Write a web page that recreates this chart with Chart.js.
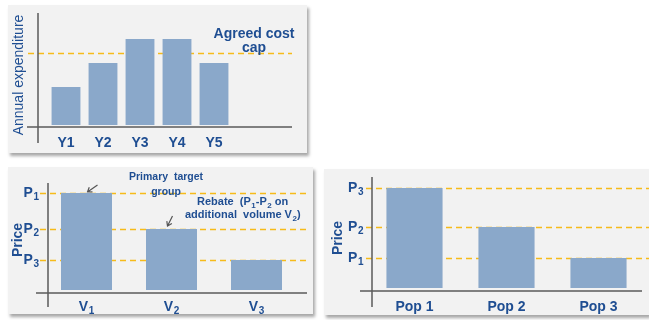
<!DOCTYPE html>
<html>
<head>
<meta charset="utf-8">
<script src="https://cdn.jsdelivr.net/npm/chart.js@4.4.1/dist/chart.umd.min.js"></script>
<style>
  body { margin: 0; width: 649px; height: 320px; overflow: hidden; position: relative; background: #fff; }
  .panel { position: absolute; background: #f2f2f2; box-shadow: 2px 3px 3px rgba(0, 0, 0, 0.35); }
  .panel canvas { display: block; }
</style>
</head>
<body>
<div class="panel" style="left:8px;top:5px;width:299px;height:148px"><canvas id="costChart" width="299" height="148"></canvas></div>
<div class="panel" style="left:8px;top:167px;width:305px;height:147px"><canvas id="volumeChart" width="305" height="147"></canvas></div>
<div class="panel" style="left:324px;top:169px;width:325px;height:146px"><canvas id="popChart" width="325" height="146"></canvas></div>
<script>
// Annual spend against the agreed cap
var years = ['Y1', 'Y2', 'Y3', 'Y4', 'Y5'];
var spend = [38, 62, 86, 86, 62];
var costCap = 72;

// Volume based pricing (last character is drawn as a subscript)
var volumes = ['V1', 'V2', 'V3'];
var volumePrices = [97, 61, 30];
var volumePriceLabels = ['P1', 'P2', 'P3'];

// Population based pricing
var pops = ['Pop 1', 'Pop 2', 'Pop 3'];
var popPrices = [100, 61, 30];
var popPriceLabels = ['P3', 'P2', 'P1'];

var FONT = 'Arial, "Liberation Sans", sans-serif';
var BLUE = '#1f4e92';
var BAR = '#8aa8ca';

Chart.defaults.font.family = FONT;
Chart.defaults.animation = false;

// "P1" -> P with a subscript 1, returns the drawn width
function subLabel(ctx, text, x, y, align, size) {
  var base = text.slice(0, -1), sub = text.slice(-1), small = Math.round(size * 0.7);
  ctx.font = 'bold ' + size + 'px ' + FONT;
  var wb = ctx.measureText(base).width;
  ctx.font = 'bold ' + small + 'px ' + FONT;
  var ws = ctx.measureText(sub).width;
  var w = wb + ws + 0.5;
  var start = align === 'right' ? x - w : (align === 'left' ? x : x - w / 2);
  ctx.textAlign = 'left';
  ctx.textBaseline = 'middle';
  ctx.font = 'bold ' + size + 'px ' + FONT;
  ctx.fillText(base, start, y);
  ctx.font = 'bold ' + small + 'px ' + FONT;
  ctx.fillText(sub, start + wb + 0.5, y + size * 0.3);
  return w;
}

// plain text run, returns the drawn width
function run(ctx, text, x, y, size) {
  ctx.font = 'bold ' + size + 'px ' + FONT;
  ctx.textAlign = 'left';
  ctx.textBaseline = 'middle';
  ctx.fillText(text, x, y);
  return ctx.measureText(text).width;
}

// dashed guides behind the bars, crossing axes and notes on top
var panelDecor = {
  id: 'panelDecor',
  beforeDatasetsDraw: function (chart, args, opts) {
    var ctx = chart.ctx, area = chart.chartArea, y = chart.scales.y;
    ctx.save();
    ctx.strokeStyle = '#f6bb1a';
    ctx.lineWidth = 1.7;
    ctx.setLineDash([6, 4]);
    opts.lines.forEach(function (v) {
      var py = Math.round(y.getPixelForValue(v)) + 0.5;
      ctx.beginPath();
      ctx.moveTo(area.left + opts.lineFrom, py);
      ctx.lineTo(area.right + opts.lineTo, py);
      ctx.stroke();
    });
    ctx.restore();
  },
  afterDatasetsDraw: function (chart, args, opts) {
    var ctx = chart.ctx, area = chart.chartArea;
    ctx.save();
    ctx.strokeStyle = '#5a5a5a';
    ctx.lineWidth = 1.5;
    var ax = area.left + opts.yAxis[0];
    ctx.beginPath();
    ctx.moveTo(ax, area.top + opts.yAxis[1]);
    ctx.lineTo(ax, area.bottom + opts.yAxis[2]);
    ctx.stroke();
    var ay = area.bottom + opts.xAxis[0];
    ctx.beginPath();
    ctx.moveTo(area.left + opts.xAxis[1], ay);
    ctx.lineTo(area.right + opts.xAxis[2], ay);
    ctx.stroke();

    // subscripted tick labels placed on the library's own scales
    ctx.fillStyle = BLUE;
    if (opts.yLabels) {
      opts.yLabels.forEach(function (t, i) {
        subLabel(ctx, t, area.left - opts.yLabelGap, chart.scales.y.getPixelForValue(opts.lines[i]), 'right', 14);
      });
    }
    if (opts.xLabels) {
      opts.xLabels.forEach(function (t, i) {
        subLabel(ctx, t, chart.scales.x.getPixelForValue(i), area.bottom + opts.xLabelGap, 'center', 14);
      });
    }
    if (opts.notes) opts.notes(chart, ctx);
    ctx.restore();
  }
};

function arrow(ctx, x0, y0, x1, y1) {
  var a = Math.atan2(y1 - y0, x1 - x0), h = 5;
  ctx.strokeStyle = '#555';
  ctx.lineWidth = 1.2;
  ctx.beginPath();
  ctx.moveTo(x0, y0);
  ctx.lineTo(x1, y1);
  ctx.moveTo(x1 - h * Math.cos(a - 0.6), y1 - h * Math.sin(a - 0.6));
  ctx.lineTo(x1, y1);
  ctx.lineTo(x1 - h * Math.cos(a + 0.6), y1 - h * Math.sin(a + 0.6));
  ctx.stroke();
}

function xAxis(pad, height, showTicks) {
  return {
    type: 'category',
    grid: { display: false, drawTicks: false },
    border: { display: false },
    ticks: { display: showTicks, color: BLUE, font: { size: 14, weight: 'bold' }, padding: pad },
    afterFit: function (s) { s.height = height; }
  };
}

function priceAxis(width, titlePad) {
  return {
    min: 0,
    max: 100,
    grid: { display: false, drawTicks: false },
    border: { display: false },
    ticks: { display: false },
    title: { display: true, text: 'Price', color: BLUE, font: { size: 14, weight: 'bold' }, padding: { top: titlePad, bottom: 0 } },
    afterFit: function (s) { s.width = width; }
  };
}

var quiet = { legend: { display: false }, tooltip: { enabled: false } };

new Chart(document.getElementById('costChart'), {
  type: 'bar',
  data: {
    labels: years,
    datasets: [{ data: spend, backgroundColor: BAR, barPercentage: 0.78, categoryPercentage: 1 }]
  },
  options: {
    responsive: false,
    events: [],
    layout: { padding: { left: 0, top: 20, right: 74.5, bottom: 0 } },
    scales: {
      x: xAxis(9.6, 28, true),
      y: {
        min: 0,
        max: 100,
        grid: { display: false, drawTicks: false },
        border: { display: false },
        ticks: { display: false },
        title: { display: true, text: 'Annual expenditure', color: BLUE, font: { size: 14 }, padding: { top: 3, bottom: 0 } },
        afterFit: function (s) { s.width = 39.5; }
      }
    },
    plugins: {
      legend: quiet.legend,
      tooltip: quiet.tooltip,
      panelDecor: {
        lines: [costCap],
        lineFrom: -19.5, lineTo: 59.5,
        yAxis: [-9.5, -12, 18],
        xAxis: [2, -20.5, 59.5],
        notes: function (chart, ctx) {
          var py = chart.scales.y.getPixelForValue(costCap);
          var cx = chart.chartArea.right + 21.5;
          ctx.fillStyle = BLUE;
          ctx.font = 'bold 14px ' + FONT;
          ctx.textAlign = 'center';
          ctx.textBaseline = 'middle';
          ctx.fillText('Agreed cost', cx, py - 19);
          ctx.fillText('cap', cx, py - 5);
        }
      }
    }
  },
  plugins: [panelDecor]
});

new Chart(document.getElementById('volumeChart'), {
  type: 'bar',
  data: {
    labels: volumes,
    datasets: [{ data: volumePrices, backgroundColor: BAR, barPercentage: 0.6, categoryPercentage: 1 }]
  },
  options: {
    responsive: false,
    events: [],
    layout: { padding: { left: 0, top: 23, right: 14, bottom: 0 } },
    scales: {
      x: xAxis(8.6, 24, false),
      y: priceAxis(36, 1.6)
    },
    plugins: {
      legend: quiet.legend,
      tooltip: quiet.tooltip,
      panelDecor: {
        lines: volumePrices,
        yLabels: volumePriceLabels, yLabelGap: 5,
        xLabels: volumes, xLabelGap: 17,
        lineFrom: -4, lineTo: 11,
        yAxis: [4, -7, 17],
        xAxis: [3, -8, 8],
        notes: function (chart, ctx) {
          var bars = chart.getDatasetMeta(0).data;
          ctx.fillStyle = BLUE;
          ctx.font = 'bold 10.5px ' + FONT;
          ctx.textAlign = 'center';
          ctx.textBaseline = 'middle';
          ctx.fillText('Primary  target', 158, 10);
          ctx.fillText('group', 158, 25);

          var x = 189;
          x += run(ctx, 'Rebate  (', x, 35, 11);
          x += subLabel(ctx, 'P1', x, 35, 'left', 11);
          x += run(ctx, '-', x, 35, 11);
          x += subLabel(ctx, 'P2', x, 35, 'left', 11);
          run(ctx, ' on', x, 35, 11);

          x = 177;
          x += run(ctx, 'additional  volume ', x, 48, 11);
          x += subLabel(ctx, 'V2', x, 48, 'left', 11);
          run(ctx, ')', x, 48, 11);

          arrow(ctx, bars[0].x + 11, bars[0].y - 8, bars[0].x + 1, bars[0].y - 1);
          arrow(ctx, bars[1].x + 1, bars[1].y - 13, bars[1].x - 4, bars[1].y - 3);
        }
      }
    }
  },
  plugins: [panelDecor]
});

new Chart(document.getElementById('popChart'), {
  type: 'bar',
  data: {
    labels: pops,
    datasets: [{ data: popPrices, backgroundColor: BAR, barPercentage: 0.61, categoryPercentage: 1 }]
  },
  options: {
    responsive: false,
    events: [],
    layout: { padding: { left: 0, top: 19, right: 4.5, bottom: 0 } },
    scales: {
      x: xAxis(10.6, 27, true),
      y: priceAxis(44.5, 5.6)
    },
    plugins: {
      legend: quiet.legend,
      tooltip: quiet.tooltip,
      panelDecor: {
        lines: popPrices,
        yLabels: popPriceLabels, yLabelGap: 5,
        lineFrom: -2.5, lineTo: 4.5,
        yAxis: [3.5, -11, 19],
        xAxis: [3, -8.5, -2.5]
      }
    }
  },
  plugins: [panelDecor]
});
</script>
</body>
</html>
